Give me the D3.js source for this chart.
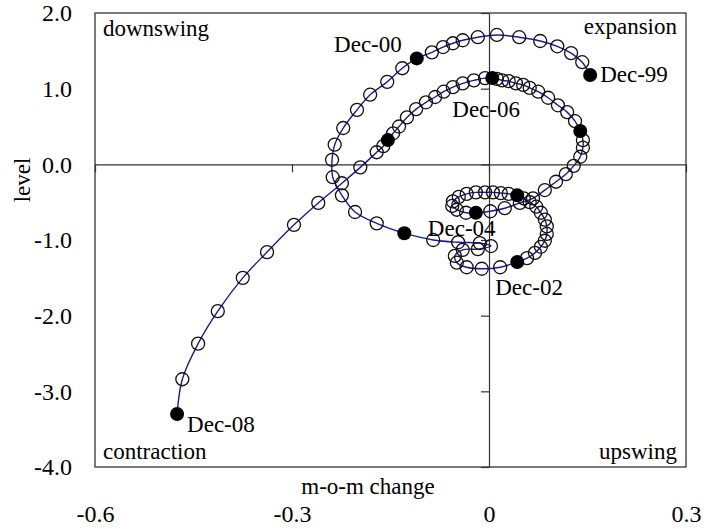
<!DOCTYPE html>
<html>
<head>
<meta charset="utf-8">
<script src="https://cdn.jsdelivr.net/npm/d3@7.9.0/dist/d3.min.js"></script>
<style>
  html, body { margin: 0; padding: 0; background: #fff; }
  svg { display: block; font-family: "Liberation Serif", "Times New Roman", serif; }
</style>
</head>
<body>
<svg id="chart" width="704" height="529"></svg>
<script>
// ---------- Data (monthly Dec-99 .. Dec-08) ----------

// m-o-m change (x)
const momChange = [
  0.154, 0.142, 0.125, 0.104, 0.078, 0.046, 0.012, -0.017, -0.040, -0.055, -0.070, -0.087, -0.110,
  -0.132, -0.155, -0.181, -0.201, -0.222, -0.235, -0.239, -0.238, -0.224, -0.204, -0.171, -0.129,
  -0.085, -0.047, -0.014, 0.003, -0.017, -0.040, -0.052, -0.049, -0.034, -0.011, 0.017, 0.043,
  0.058, 0.070, 0.079, 0.085, 0.088, 0.088, 0.085, 0.079, 0.072, 0.062, 0.053, 0.043,
  0.030, 0.018, 0.006, -0.006, -0.020, -0.034, -0.046, -0.055, -0.056, -0.049, -0.035, -0.020,
  0.002, 0.024, 0.047, 0.067, 0.085, 0.102, 0.117, 0.129, 0.139, 0.143, 0.143, 0.139,
  0.131, 0.119, 0.105, 0.090, 0.075, 0.062, 0.052, 0.041, 0.030, 0.020, 0.012, 0.005,
  -0.006, -0.023, -0.040, -0.055, -0.069, -0.082, -0.096, -0.111, -0.125, -0.137, -0.146, -0.154,
  -0.161, -0.171, -0.196, -0.224, -0.260, -0.297, -0.338, -0.375, -0.413, -0.443, -0.467, -0.475
];

// level (y)
const level = [
  1.18, 1.35, 1.47, 1.56, 1.63, 1.68, 1.71, 1.68, 1.64, 1.60, 1.55, 1.48, 1.40,
  1.27, 1.09, 0.92, 0.72, 0.48, 0.26, 0.06, -0.17, -0.41, -0.63, -0.78, -0.91,
  -1.00, -1.03, -1.04, -1.08, -1.12, -1.13, -1.21, -1.30, -1.36, -1.38, -1.36, -1.29,
  -1.24, -1.17, -1.09, -1.01, -0.92, -0.82, -0.73, -0.64, -0.56, -0.50, -0.45, -0.41,
  -0.39, -0.38, -0.37, -0.37, -0.37, -0.39, -0.43, -0.49, -0.55, -0.60, -0.64, -0.64,
  -0.62, -0.58, -0.51, -0.45, -0.34, -0.23, -0.13, -0.02, 0.10, 0.22, 0.32, 0.44,
  0.57, 0.69, 0.78, 0.88, 0.96, 1.01, 1.05, 1.07, 1.10, 1.11, 1.13, 1.14,
  1.14, 1.11, 1.07, 1.02, 0.96, 0.89, 0.82, 0.73, 0.62, 0.50, 0.41, 0.32,
  0.24, 0.16, -0.04, -0.25, -0.51, -0.80, -1.16, -1.50, -1.94, -2.37, -2.84, -3.30
];

// December markers (every 12th month) and which ones get a label
const decNames = ["Dec-99", "Dec-00", "Dec-01", "Dec-02", "Dec-03", "Dec-04", "Dec-05", "Dec-06", "Dec-07", "Dec-08"];
const labelledDecs = ["Dec-99", "Dec-00", "Dec-02", "Dec-04", "Dec-06", "Dec-08"];

const xTicks = [-0.6, -0.3, 0, 0.3];
const xTickLabels = ["-0.6", "-0.3", "0", "0.3"];
const yTicks = [-4, -3, -2, -1, 0, 1, 2];
const yTickLabels = ["-4.0", "-3.0", "-2.0", "-1.0", "0.0", "1.0", "2.0"];

const quadrantNames = ["downswing", "expansion", "contraction", "upswing"];

console.log("points:", momChange.length, level.length);

// ---------- Layout ----------

const svg = d3.select("#chart");
const plotLeft = 95, plotRight = 686, plotTop = 13, plotBottom = 467;

const x = d3.scaleLinear().domain([-0.6, 0.3]).range([plotLeft, plotRight]);
const y = d3.scaleLinear().domain([-4, 2]).range([plotBottom, plotTop]);

const points = momChange.map((v, i) => ({ x: v, y: level[i], i }));
const decPoints = decNames.map((name, k) => ({ ...points[k * 12], name }));

// label placement relative to the dot (px)
const labelOffset = {
  "Dec-99": { dx: 10, dy: 7, anchor: "start" },
  "Dec-00": { dx: -15, dy: -6, anchor: "end" },
  "Dec-02": { dx: -22, dy: 33, anchor: "start" },
  "Dec-04": { dx: -48, dy: 23, anchor: "start" },
  "Dec-06": { dx: -40, dy: 39, anchor: "start" },
  "Dec-08": { dx: 10, dy: 18, anchor: "start" },
};

// ---------- Frame + zero lines ----------

svg.append("rect")
  .attr("x", plotLeft).attr("y", plotTop)
  .attr("width", plotRight - plotLeft).attr("height", plotBottom - plotTop)
  .attr("fill", "none")
  .attr("stroke", "#444")
  .attr("stroke-width", 1.4);

// vertical zero axis with ticks pointing left
svg.append("g")
  .attr("transform", `translate(${x(0)},0)`)
  .call(d3.axisLeft(y).tickValues(yTicks).tickSize(8).tickSizeOuter(0).tickFormat(""))
  .call((g) => g.selectAll("path, line").attr("stroke", "#333").attr("stroke-width", 1.2));

// horizontal zero axis with ticks pointing down
svg.append("g")
  .attr("transform", `translate(0,${y(0)})`)
  .call(d3.axisBottom(x).tickValues(xTicks).tickSize(8).tickSizeOuter(0).tickFormat(""))
  .call((g) => g.selectAll("path, line").attr("stroke", "#333").attr("stroke-width", 1.2));

// ---------- Tick labels on the frame ----------

svg.append("g")
  .attr("transform", `translate(${plotLeft},0)`)
  .call(d3.axisLeft(y).tickValues(yTicks).tickSize(0).tickPadding(23)
    .tickFormat((d, i) => yTickLabels[i]))
  .call((g) => g.select(".domain").remove())
  .call((g) => g.selectAll("text")
    .attr("font-family", "Liberation Serif, serif")
    .attr("font-size", 24)
    .attr("fill", "#000"));

svg.append("g")
  .attr("transform", `translate(0,${plotBottom})`)
  .call(d3.axisBottom(x).tickValues(xTicks).tickSize(0).tickPadding(38)
    .tickFormat((d, i) => xTickLabels[i]))
  .call((g) => g.select(".domain").remove())
  .call((g) => g.selectAll("text")
    .attr("font-family", "Liberation Serif, serif")
    .attr("font-size", 24)
    .attr("fill", "#000"));

// axis titles
svg.append("text")
  .attr("x", 368).attr("y", 494)
  .attr("text-anchor", "middle")
  .attr("font-size", 23)
  .text("m-o-m change");

svg.append("text")
  .attr("transform", "translate(30,180) rotate(-90)")
  .attr("text-anchor", "middle")
  .attr("font-size", 23)
  .text("level");

// quadrant names
const quadPos = [
  { x: plotLeft + 8, y: plotTop + 23, anchor: "start" },
  { x: plotRight - 9, y: plotTop + 21, anchor: "end" },
  { x: plotLeft + 8, y: plotBottom - 8, anchor: "start" },
  { x: plotRight - 9, y: plotBottom - 8, anchor: "end" },
];
svg.append("g")
  .selectAll("text")
  .data(quadrantNames)
  .join("text")
  .attr("x", (d, i) => quadPos[i].x)
  .attr("y", (d, i) => quadPos[i].y)
  .attr("text-anchor", (d, i) => quadPos[i].anchor)
  .attr("font-size", 23)
  .text((d) => d);

// ---------- Path + markers ----------

const line = d3.line()
  .x((d) => x(d.x))
  .y((d) => y(d.y))
  .curve(d3.curveCatmullRom.alpha(0.5));

svg.append("path")
  .datum(points)
  .attr("d", line)
  .attr("fill", "none")
  .attr("stroke", "#1c1c8c")
  .attr("stroke-width", 1.4);

svg.append("g")
  .selectAll("circle")
  .data(points.filter((d) => d.i % 12 !== 0))
  .join("circle")
  .attr("cx", (d) => x(d.x))
  .attr("cy", (d) => y(d.y))
  .attr("r", 6.5)
  .attr("fill", "none")
  .attr("stroke", "#111")
  .attr("stroke-width", 1.3);

svg.append("g")
  .selectAll("circle")
  .data(decPoints)
  .join("circle")
  .attr("cx", (d) => x(d.x))
  .attr("cy", (d) => y(d.y))
  .attr("r", 7)
  .attr("fill", "#000");

// December labels
svg.append("g")
  .selectAll("text")
  .data(decPoints.filter((d) => labelledDecs.includes(d.name)))
  .join("text")
  .attr("x", (d) => x(d.x) + labelOffset[d.name].dx)
  .attr("y", (d) => y(d.y) + labelOffset[d.name].dy)
  .attr("text-anchor", (d) => labelOffset[d.name].anchor)
  .attr("font-size", 23)
  .attr("fill", "#000")
  .text((d) => d.name);
</script>
</body>
</html>
